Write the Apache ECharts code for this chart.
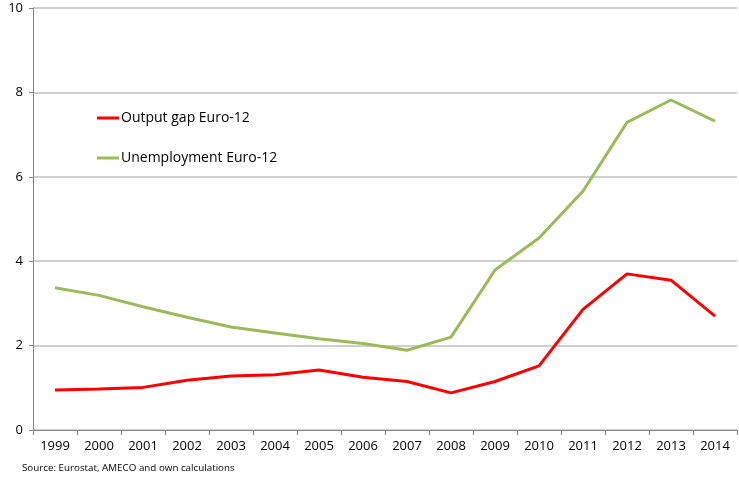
<!DOCTYPE html>
<html>
<head>
<meta charset="utf-8">
<script src="https://cdn.jsdelivr.net/npm/echarts@6/dist/echarts.min.js"></script>
<style>
  html, body { margin: 0; padding: 0; background: #fff; }
  #chart { width: 739px; height: 478px; }
</style>
</head>
<body>
<div id="chart"></div>
<script>
const years = ['1999', '2000', '2001', '2002', '2003', '2004', '2005', '2006',
               '2007', '2008', '2009', '2010', '2011', '2012', '2013', '2014'];
const outputGap = [0.95, 0.97, 1.01, 1.18, 1.28, 1.31, 1.42, 1.25,
                   1.15, 0.88, 1.15, 1.52, 2.86, 3.70, 3.55, 2.70];
const unemployment = [3.37, 3.19, 2.92, 2.67, 2.44, 2.30, 2.16, 2.05,
                      1.89, 2.20, 3.79, 4.55, 5.66, 7.29, 7.82, 7.32];
const sourceNote = 'Source: Eurostat, AMECO and own calculations';

const font = 'Open Sans, Noto Sans, sans-serif';

const chart = echarts.init(document.getElementById('chart'));

chart.setOption({
    animation: false,
    textStyle: { fontFamily: font },
    grid: { left: 33, right: 2, top: 8, bottom: 48 },
    title: {
        text: sourceNote,
        left: 22,
        top: 463,
        padding: 0,
        textStyle: { fontSize: 9.8, fontWeight: 'normal', color: '#000', fontFamily: font }
    },
    legend: {
        orient: 'vertical',
        left: 97,
        top: 111,
        padding: 0,
        itemWidth: 22,
        itemHeight: 3,
        itemGap: 26,
        icon: 'rect',
        textStyle: { fontSize: 14, color: '#000', padding: [0, 0, 0, -3] },
        data: ['Output gap Euro-12', 'Unemployment Euro-12']
    },
    xAxis: {
        type: 'category',
        data: years,
        boundaryGap: true,
        axisLine: { lineStyle: { color: '#878787', width: 1 } },
        axisTick: { show: true, length: 5, lineStyle: { color: '#878787' } },
        axisLabel: { fontSize: 13, color: '#000', margin: 10 }
    },
    yAxis: {
        type: 'value',
        min: 0,
        max: 10,
        interval: 2,
        axisLine: { show: true, lineStyle: { color: '#878787', width: 1 } },
        axisTick: { show: true, length: 4, lineStyle: { color: '#878787' } },
        axisLabel: { fontSize: 13, color: '#000', margin: 10 },
        splitLine: { lineStyle: { color: '#bfbfbf', width: 1.5 } }
    },
    series: [
        {
            name: 'Output gap Euro-12',
            type: 'line',
            data: outputGap,
            symbol: 'none',
            lineStyle: { color: '#ff0000', width: 3 },
            itemStyle: { color: '#ff0000' }
        },
        {
            name: 'Unemployment Euro-12',
            type: 'line',
            data: unemployment,
            symbol: 'none',
            lineStyle: { color: '#9bbb59', width: 3 },
            itemStyle: { color: '#9bbb59' }
        }
    ]
});
</script>
</body>
</html>
